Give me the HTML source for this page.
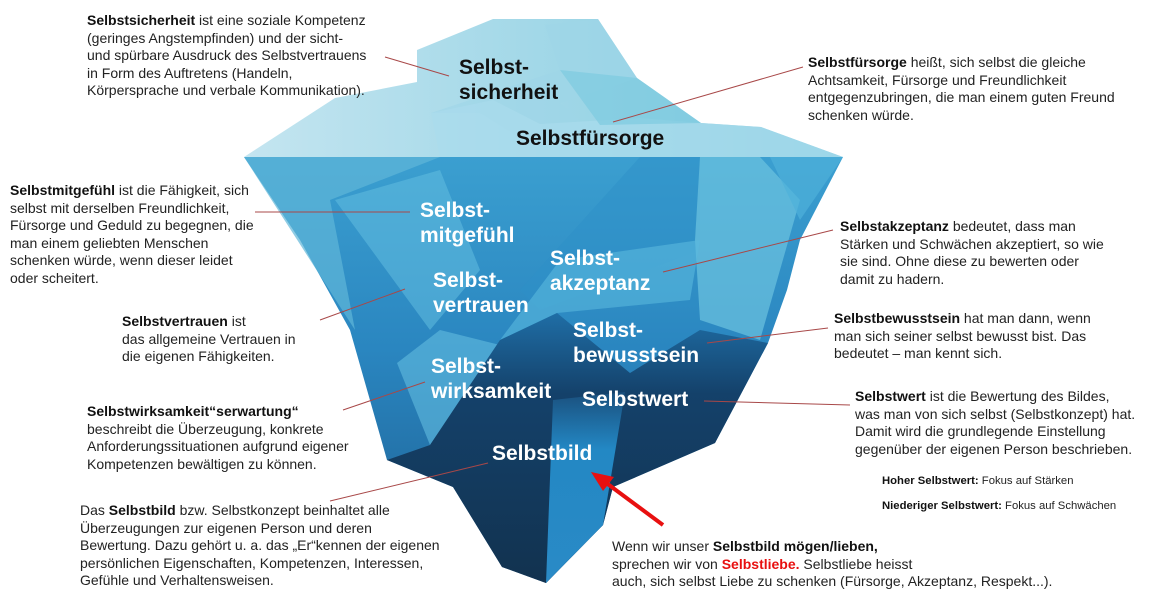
<!DOCTYPE html>
<html><head><meta charset="utf-8"><style>
body{margin:0;width:1162px;height:598px;background:#fff;position:relative;overflow:hidden;font-family:"Liberation Sans",sans-serif;}
.t{position:absolute;font-size:14px;line-height:17.5px;color:#222;white-space:nowrap;}
.s{position:absolute;font-size:11.3px;color:#222;white-space:nowrap;}
.l{position:absolute;font-weight:bold;font-size:21px;line-height:25px;white-space:nowrap;}
.w{color:#fff}.k{color:#111}
b{font-weight:bold;color:#111}
</style></head><body>
<svg width="1162" height="598" style="position:absolute;left:0;top:0">
<defs>
<linearGradient id="ice" x1="0" y1="0" x2="1" y2="0"><stop offset="0" stop-color="#c4e5f0"/><stop offset="1" stop-color="#7fcadf"/></linearGradient>
<linearGradient id="wat" x1="0" y1="0" x2="0" y2="1"><stop offset="0" stop-color="#3b9fd0"/><stop offset="0.45" stop-color="#2a86c0"/><stop offset="1" stop-color="#1d5f92"/></linearGradient>
<linearGradient id="dark" x1="0" y1="0" x2="0" y2="1"><stop offset="0" stop-color="#1f6ea6"/><stop offset="0.3" stop-color="#14416a"/><stop offset="1" stop-color="#12324f"/></linearGradient>
<linearGradient id="col" x1="0" y1="0" x2="0" y2="1"><stop offset="0" stop-color="#1a4f7d"/><stop offset="0.3" stop-color="#2388c4"/><stop offset="1" stop-color="#2a8ac6"/></linearGradient>
</defs>
<polygon points="244,157 335,98 417,82 417,50 493,19 598,19 637,78 701,123 761,127 843,157" fill="url(#ice)"/>
<polygon points="431,113 480,113 540,150 600,140 560,103 637,78 598,19 545,25 560,70" fill="#9fd6e8" opacity="0.6"/>
<polygon points="431,113 493,100 540,124 640,118 701,123 761,127 843,157 440,157" fill="#a9dced" opacity="0.7"/>
<polygon points="560,70 637,78 701,123 600,125" fill="#7dcae0" opacity="0.7"/>
<polygon points="244,157 843,157 800,240 787,290 768,343 715,443 613,487 603,525 546,583 502,567 453,487 387,460 350,330 300,240" fill="url(#wat)"/>
<polygon points="244,157 440,157 330,200 355,330" fill="#5fb6d8" opacity="0.7"/>
<polygon points="335,200 440,170 480,270 430,330" fill="#62bde0" opacity="0.55"/>
<polygon points="640,157 700,157 700,250 540,310 520,290" fill="#2d8fc7" opacity="0.5"/>
<polygon points="700,157 760,157 800,200 760,340 700,320 695,240" fill="#6cc3e0" opacity="0.7"/>
<polygon points="770,157 843,157 800,220" fill="#4fb0da" opacity="0.7"/>
<polygon points="560,260 700,240 690,300 557,313 500,340" fill="#5ab9dd" opacity="0.6"/>
<polygon points="397,363 440,330 500,345 430,445" fill="#62bde0" opacity="0.6"/>
<polygon points="387,460 430,445 500,340 557,313 630,373 700,330 768,343 715,443 613,487 603,525 546,583 502,567 453,487" fill="url(#dark)"/>
<polygon points="553,400 625,392 603,525 546,583" fill="url(#col)"/>
<g stroke="#a84848" stroke-width="1" fill="none">
<line x1="385" y1="57" x2="449" y2="76"/>
<line x1="613" y1="122" x2="803" y2="67"/>
<line x1="255" y1="212" x2="410" y2="212"/>
<line x1="320" y1="320" x2="405" y2="289"/>
<line x1="663" y1="272" x2="833" y2="230"/>
<line x1="707" y1="343" x2="828" y2="328"/>
<line x1="343" y1="410" x2="425" y2="382"/>
<line x1="704" y1="401" x2="850" y2="405"/>
<line x1="330" y1="501" x2="488" y2="463"/>
</g>
<line x1="663" y1="525" x2="605" y2="482" stroke="#e81010" stroke-width="4"/>
<polygon points="591,472 614,477 603,491" fill="#e81010"/>
</svg>

<div class="l k" style="left:459px;top:55px">Selbst-<br>sicherheit</div>
<div class="l k" style="left:516px;top:126px">Selbstfürsorge</div>
<div class="l w" style="left:420px;top:198px">Selbst-<br>mitgefühl</div>
<div class="l w" style="left:433px;top:268px">Selbst-<br>vertrauen</div>
<div class="l w" style="left:550px;top:246px">Selbst-<br>akzeptanz</div>
<div class="l w" style="left:573px;top:318px">Selbst-<br>bewusstsein</div>
<div class="l w" style="left:431px;top:354px">Selbst-<br>wirksamkeit</div>
<div class="l w" style="left:582px;top:387px">Selbstwert</div>
<div class="l w" style="left:492px;top:441px">Selbstbild</div>

<div class="t" style="left:87px;top:12px"><b>Selbstsicherheit</b> ist eine soziale Kompetenz<br>(geringes Angstempfinden) und der sicht-<br>und spürbare Ausdruck des Selbstvertrauens<br>in Form des Auftretens (Handeln,<br>Körpersprache und verbale Kommunikation).</div>
<div class="t" style="left:808px;top:54px"><b>Selbstfürsorge</b> heißt, sich selbst die gleiche<br>Achtsamkeit, Fürsorge und Freundlichkeit<br>entgegenzubringen, die man einem guten Freund<br>schenken würde.</div>
<div class="t" style="left:10px;top:182px"><b>Selbstmitgefühl</b> ist die Fähigkeit, sich<br>selbst mit derselben Freundlichkeit,<br>Fürsorge und Geduld zu begegnen, die<br>man einem geliebten Menschen<br>schenken würde, wenn dieser leidet<br>oder scheitert.</div>
<div class="t" style="left:840px;top:218px"><b>Selbstakzeptanz</b> bedeutet, dass man<br>Stärken und Schwächen akzeptiert, so wie<br>sie sind. Ohne diese zu bewerten oder<br>damit zu hadern.</div>
<div class="t" style="left:122px;top:313px"><b>Selbstvertrauen</b> ist<br>das allgemeine Vertrauen in<br>die eigenen Fähigkeiten.</div>
<div class="t" style="left:834px;top:310px"><b>Selbstbewusstsein</b> hat man dann, wenn<br>man sich seiner selbst bewusst bist. Das<br>bedeutet – man kennt sich.</div>
<div class="t" style="left:855px;top:388px"><b>Selbstwert</b> ist die Bewertung des Bildes,<br>was man von sich selbst (Selbstkonzept) hat.<br>Damit wird die grundlegende Einstellung<br>gegenüber der eigenen Person beschrieben.</div>
<div class="s" style="left:882px;top:475px"><b>Hoher Selbstwert:</b> Fokus auf Stärken</div>
<div class="s" style="left:882px;top:500px"><b>Niederiger Selbstwert:</b> Fokus auf Schwächen</div>
<div class="t" style="left:87px;top:403px"><b>Selbstwirksamkeit“serwartung“</b><br>beschreibt die Überzeugung, konkrete<br>Anforderungssituationen aufgrund eigener<br>Kompetenzen bewältigen zu können.</div>
<div class="t" style="left:80px;top:502px">Das <b>Selbstbild</b> bzw. Selbstkonzept beinhaltet alle<br>Überzeugungen zur eigenen Person und deren<br>Bewertung. Dazu gehört u. a. das „Er“kennen der eigenen<br>persönlichen Eigenschaften, Kompetenzen, Interessen,<br>Gefühle und Verhaltensweisen.</div>
<div class="t" style="left:612px;top:538px">Wenn wir unser <b>Selbstbild mögen/lieben,</b><br>sprechen wir von <b style="color:#e81010">Selbstliebe.</b> Selbstliebe heisst<br>auch, sich selbst Liebe zu schenken (Fürsorge, Akzeptanz, Respekt...).</div>
</body></html>
